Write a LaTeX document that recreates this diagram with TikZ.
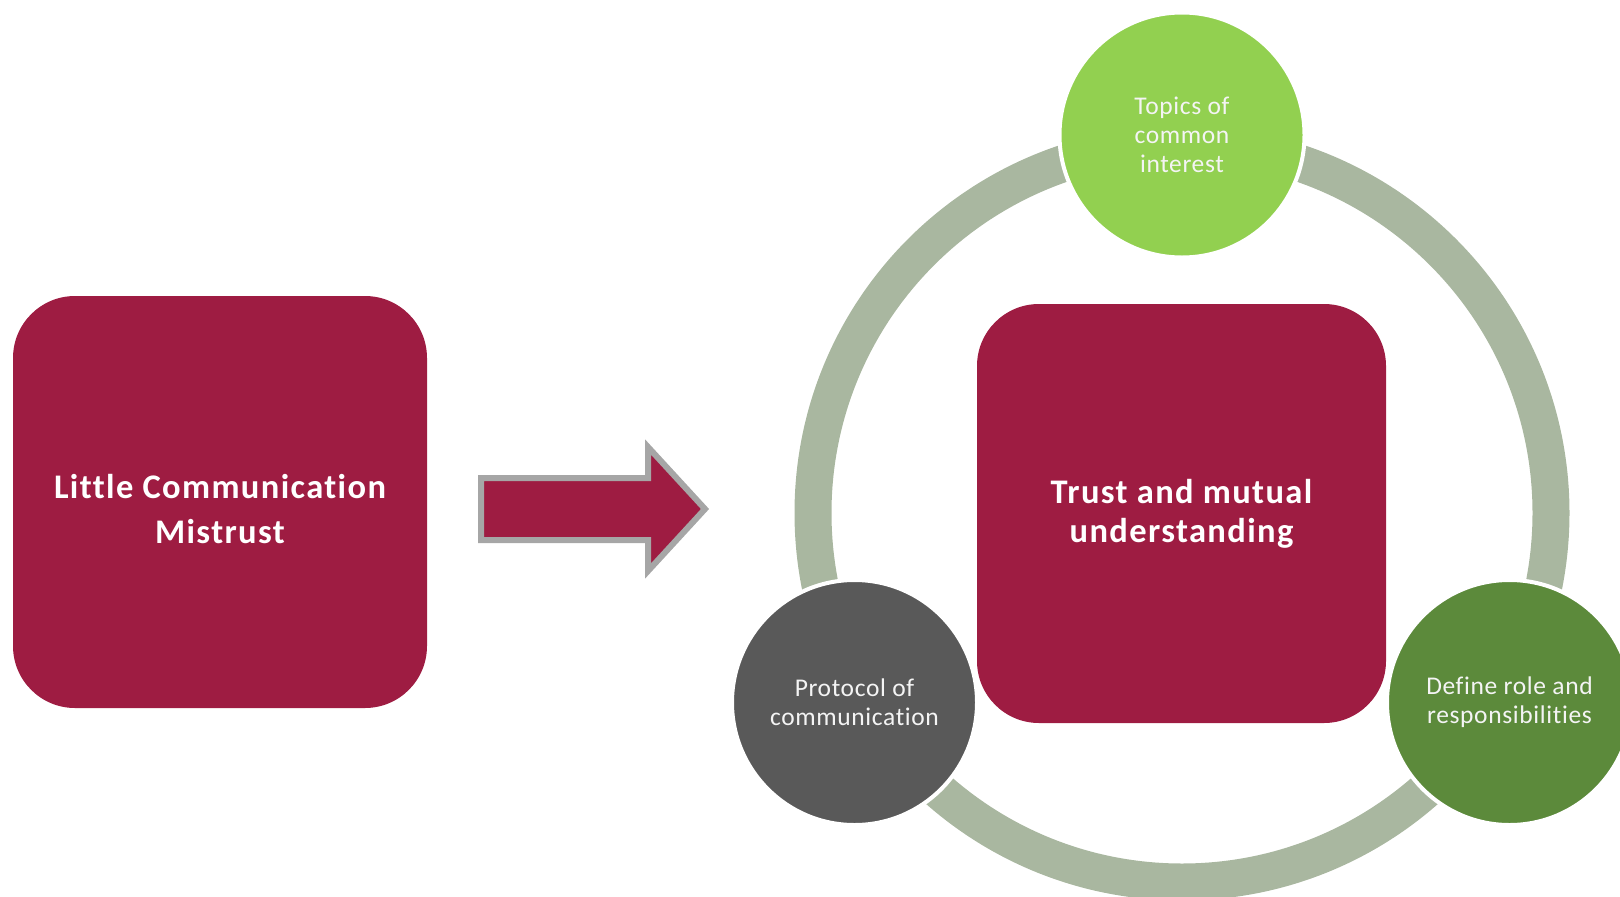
\documentclass[tikz,border=0pt]{standalone}
\usepackage{fontspec}
\setmainfont{Carlito}[Ligatures=NoCommon]
\newfontfamily\headfont{Carlito}[Ligatures=NoCommon, LetterSpace=4]
\newfontfamily\topicfont{Carlito}[Ligatures=NoCommon, LetterSpace=2.5]
\definecolor{maroon}{HTML}{9E1C42}
\definecolor{ringgrey}{HTML}{A9B7A0}
\definecolor{lightgreen}{HTML}{92D050}
\definecolor{darkgreen}{HTML}{5C8A3B}
\definecolor{darkgrey}{HTML}{595959}
\definecolor{arrowedge}{HTML}{A6A6A6}
\definecolor{softwhite}{HTML}{F4F4F4}
\tikzset{
  bigbox/.style={rectangle, rounded corners=62pt, fill=maroon, inner sep=0pt},
  headtext/.style={text=white, align=center, inner sep=0pt},
  topic/.style={circle, minimum size=245pt, inner sep=0pt, draw=white,
    line width=4pt, text=softwhite, align=center,
    font=\topicfont\fontsize{25.5}{29}\selectfont},
}
\begin{document}
\begin{tikzpicture}[x=1pt,y=-1pt]
  \useasboundingbox (0,0) rectangle (1620,897);
  \clip (0,0) rectangle (1620,897);

  % cycle ring behind the three topics
  \coordinate (hub) at (1182,513);
  \draw[ringgrey, line width=37pt] (hub) circle[radius=369];

  % topics around the ring
  \node[topic, fill=lightgreen] (topics) at (1182,135) {Topics of\\common\\interest};
  \node[topic, fill=darkgrey] (protocol) at (854.5,702.5) {Protocol of\\communication};
  \node[topic, fill=darkgreen] (roles) at (1509.5,702.5) {Define role and\\responsibilities};

  % the two states
  \node[bigbox, minimum width=414pt, minimum height=412pt] (before) at (220,502) {};
  \node[headtext, font=\headfont\fontsize{34.5}{45}\selectfont\bfseries]
    (beforelabel) at ([yshift=-7pt]before.center) {Little Communication\\Mistrust};
  \node[bigbox, minimum width=409pt, minimum height=419pt] (after) at (1181.5,513.5) {};
  \node[headtext, font=\headfont\fontsize{34.5}{39}\selectfont\bfseries]
    (afterlabel) at (after.center) {Trust and mutual\\understanding};

  % block arrow from one state to the other
  \coordinate (tail) at (481,509);
  \coordinate (tip) at (705,509);
  \draw[arrowedge, line width=6pt, fill=maroon, line join=miter]
    (tail |- 0,478) -- (648,478) -- (648,447) -- (tip)
    -- (648,571) -- (648,540) -- (tail |- 0,540) -- cycle;
\end{tikzpicture}
\end{document}
